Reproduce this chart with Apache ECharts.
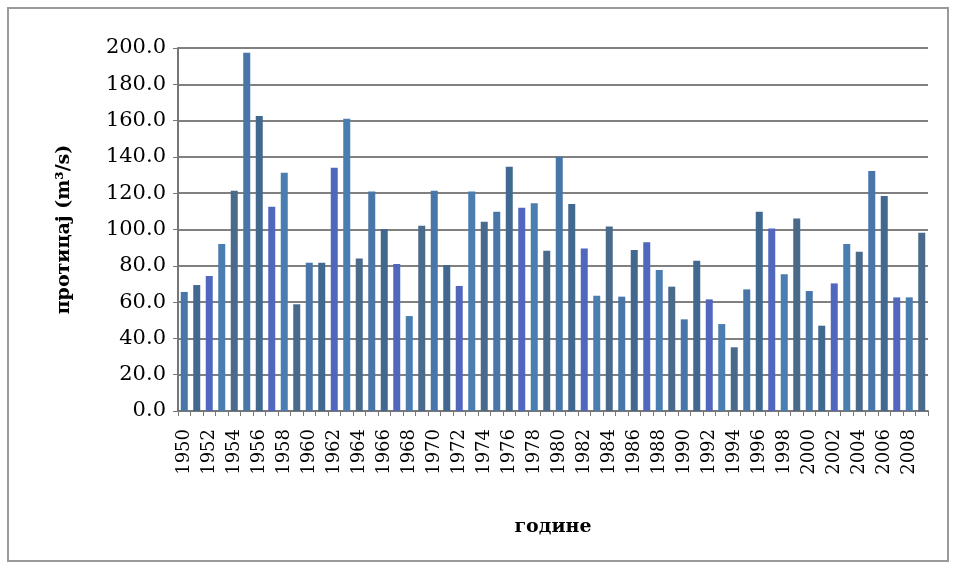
<!DOCTYPE html>
<html><head><meta charset="utf-8">
<script src="https://cdn.jsdelivr.net/npm/echarts@6/dist/echarts.min.js"></script>
<style>html,body{margin:0;padding:0;background:#fff}#c{width:956px;height:569px}</style>
</head><body><div id="c"></div>
<script>
const years = [];
for (let y = 1950; y <= 2009; y++) years.push(String(y));
const discharge = [65.6,69.4,74.4,92.0,121.4,197.4,162.5,112.6,131.3,58.8,
  81.7,81.7,134.0,161.0,84.0,121.0,100.3,81.0,52.3,102.0,
  121.4,80.4,68.9,121.0,104.3,109.8,134.6,112.0,114.4,88.3,
  140.1,114.0,89.6,63.5,101.6,63.0,88.7,93.0,77.7,68.5,
  50.5,82.8,61.5,47.9,35.1,67.0,109.8,100.6,75.3,106.1,
  66.1,47.0,70.3,92.0,87.8,132.2,118.5,62.6,62.6,98.2];
const yTicks = [0,20,40,60,80,100,120,140,160,180,200];
const yName = 'протицај (m³/s)';
const xName = 'године';

const palette = ['#4876a8','#41698f','#5067bd','#4a7db0','#4a6a8c'];
const chart = echarts.init(document.getElementById('c'));
chart.setOption({
  backgroundColor:'#fff',
  animation:false,
  graphic:[{type:'rect',shape:{x:8,y:8,width:940,height:553},style:{fill:'none',stroke:'#9a9a9a',lineWidth:2}}],
  grid:{left:178,right:28,top:48,bottom:158},
  xAxis:{type:'category',data:years,
    name:xName,nameLocation:'middle',nameGap:107,
    nameTextStyle:{fontFamily:'DejaVu Serif',fontWeight:'bold',fontSize:19,color:'#000'},
    axisLine:{lineStyle:{color:'#777',width:2}},
    axisTick:{show:true,interval:0,length:5,lineStyle:{color:'#777'}},
    axisLabel:{interval:1,rotate:90,fontFamily:'DejaVu Serif',fontSize:18,color:'#000',margin:18}},
  yAxis:{type:'value',min:0,max:200,interval:20,
    name:yName,nameLocation:'middle',nameGap:104,
    nameTextStyle:{fontFamily:'DejaVu Serif',fontWeight:'bold',fontSize:19,color:'#000'},
    axisLine:{show:true,lineStyle:{color:'#777',width:2}},
    axisTick:{show:true,length:5,lineStyle:{color:'#777'}},
    splitLine:{lineStyle:{color:'#808080',width:2}},
    axisLabel:{fontFamily:'DejaVu Serif',fontSize:21,color:'#000',margin:12,
      formatter:v=>v.toFixed(1)}},
  series:[{type:'bar',data:discharge,barCategoryGap:'44%',
    itemStyle:{color:p=>palette[p.dataIndex%palette.length]}}]
});
</script></body></html>
